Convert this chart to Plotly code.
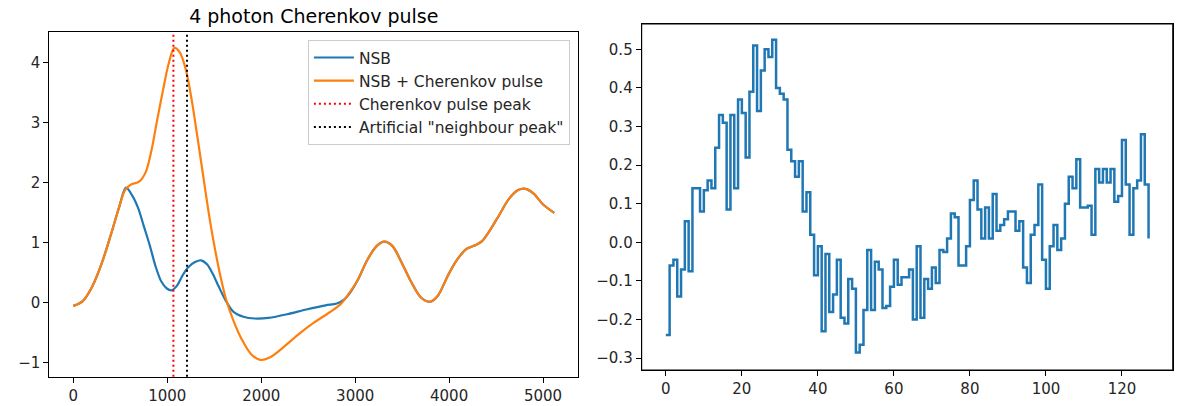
import plotly.graph_objects as go

# ---------------- data: left panel ----------------
nsb_x = [0, 100, 200, 300, 400, 490, 560, 630, 690, 750, 815, 875, 935, 995, 1045,
         1100, 1160, 1220, 1295, 1360, 1425, 1485, 1545, 1625, 1705, 1810, 1930, 2075,
         2275, 2480, 2685, 2805, 2885, 2950, 3030, 3130, 3230, 3310, 3395, 3495, 3600,
         3700, 3800, 3880, 3985, 4085, 4185, 4290, 4350, 4430, 4535, 4635, 4735, 4815,
         4900, 5000, 5119]
nsb_y = [-0.06, 0.02, 0.26, 0.64, 1.13, 1.6, 1.91, 1.77, 1.57, 1.27, 0.94, 0.6, 0.35, 0.23, 0.2,
         0.27, 0.44, 0.58, 0.67, 0.70, 0.63, 0.47, 0.27, 0.02, -0.16, -0.24, -0.27, -0.26,
         -0.2, -0.12, -0.05, -0.02, 0.05, 0.17, 0.38, 0.71, 0.94, 1.01, 0.94, 0.66, 0.33,
         0.08, 0.01, 0.11, 0.44, 0.71, 0.89, 0.96, 1.02, 1.19, 1.46, 1.72, 1.87, 1.89,
         1.81, 1.63, 1.49]

pulse_x = [0, 100, 200, 300, 400, 490, 550, 610, 700, 770, 830, 890, 955, 1015, 1075,
           1135, 1200, 1260, 1320, 1380, 1440, 1500, 1565, 1625, 1705, 1790, 1890, 1990,
           2090, 2235, 2400, 2560, 2725, 2845, 2930, 3030, 3130, 3230, 3310, 3395, 3495,
           3600, 3700, 3800, 3880, 3985, 4085, 4185, 4290, 4350, 4430, 4535, 4635, 4735,
           4815, 4900, 5000, 5119]
pulse_y = [-0.06, 0.02, 0.26, 0.64, 1.13, 1.6, 1.87, 1.96, 2.01, 2.17, 2.52, 3.02, 3.54, 3.98, 4.24,
           4.16, 3.86, 3.37, 2.76, 2.13, 1.5, 0.95, 0.44, 0.05, -0.31, -0.61, -0.86, -0.96,
           -0.92, -0.75, -0.53, -0.34, -0.17, -0.03, 0.14, 0.38, 0.71, 0.94, 1.01, 0.94, 0.66,
           0.33, 0.08, 0.01, 0.11, 0.44, 0.71, 0.89, 0.96, 1.02, 1.19, 1.46, 1.72, 1.87,
           1.89, 1.81, 1.63, 1.49]

peak_x = 1065
neighbour_x = 1210

left_xticks = [0, 1000, 2000, 3000, 4000, 5000]
left_yticks = [-1, 0, 1, 2, 3, 4]

# ---------------- data: right panel ----------------
samples = list(range(128))
digitized = [
    -0.24, -0.06, -0.045, -0.14, -0.07, 0.055, -0.075, 0.14, 0.14, 0.08,
    0.135, 0.16, 0.14, 0.245, 0.33, 0.31, 0.085, 0.33, 0.14, 0.37,
    0.335, 0.22, 0.39, 0.51, 0.34, 0.445, 0.50, 0.48, 0.525, 0.40,
    0.385, 0.37, 0.24, 0.21, 0.17, 0.21, 0.08, 0.13, 0.02, -0.085,
    -0.01, -0.23, -0.03, -0.18, -0.135, -0.045, -0.195, -0.21, -0.095, -0.12,
    -0.285, -0.265, -0.175, -0.02, -0.175, -0.05, -0.07, -0.17, -0.165, -0.115,
    -0.045, -0.11, -0.09, -0.09, -0.07, -0.2, -0.01, -0.195, -0.095, -0.12,
    -0.065, -0.105, -0.02, -0.025, 0.01, 0.075, 0.065, -0.06, -0.06, -0.01,
    0.11, 0.16, 0.085, 0.01, 0.09, 0.01, 0.125, 0.03, 0.045, 0.06,
    0.08, 0.08, 0.03, 0.055, -0.065, -0.105, 0.02, 0.045, 0.15, -0.045,
    -0.12, -0.01, 0.045, -0.02, 0.01, 0.10, 0.17, 0.14, 0.215, 0.09,
    0.09, 0.095, 0.02, 0.19, 0.155, 0.19, 0.155, 0.19, 0.105, 0.12,
    0.265, 0.15, 0.02, 0.14, 0.16, 0.28, 0.15, 0.01]

right_xticks = [0, 20, 40, 60, 80, 100, 120]
right_yticks = [-0.3, -0.2, -0.1, 0.0, 0.1, 0.2, 0.3, 0.4, 0.5]

# ---------------- figure ----------------
W, H = 1181, 406
FONT = "DejaVu Sans"
BLUE = "#1f77b4"
ORANGE = "#ff7f0e"
TICK_SIZE = 15
LEGEND_SIZE = 15.5
TITLE_SIZE = 19

fig = go.Figure()

fig.add_trace(go.Scatter(
    x=nsb_x, y=nsb_y, mode="lines", name="NSB", legendgroup="g1",
    line=dict(color=BLUE, width=2.2, shape="spline", smoothing=0.9),
    xaxis="x", yaxis="y"))
fig.add_trace(go.Scatter(
    x=pulse_x, y=pulse_y, mode="lines", name="NSB + Cherenkov pulse", legendgroup="g2",
    line=dict(color=ORANGE, width=2.2, shape="spline", smoothing=0.9),
    xaxis="x", yaxis="y"))

fig.add_shape(type="line", xref="x", yref="y domain", x0=peak_x, x1=peak_x, y0=0, y1=1,
              line=dict(color="#ff0000", width=2, dash="2px,3px"),
              showlegend=True, name="Cherenkov pulse peak", legendgroup="g3")
fig.add_shape(type="line", xref="x", yref="y domain", x0=neighbour_x, x1=neighbour_x, y0=0, y1=1,
              line=dict(color="#000000", width=2, dash="2px,3px"),
              showlegend=True, name='Artificial "neighbour peak"', legendgroup="g4")

fig.add_trace(go.Scatter(
    x=samples, y=digitized, mode="lines", showlegend=False,
    line=dict(color=BLUE, width=2.5, shape="hv"),
    xaxis="x2", yaxis="y2"))

# frame around the right panel (axes box)
fig.add_shape(type="rect", xref="x2 domain", yref="y2 domain", x0=0, x1=1, y0=0, y1=1,
              line=dict(color="black", width=1), fillcolor="rgba(0,0,0,0)", layer="above")

axis_common = dict(
    showline=True, linecolor="black", linewidth=1, mirror=True,
    ticks="outside", ticklen=5, tickwidth=1, tickcolor="black",
    showgrid=False, zeroline=False, automargin=False,
    tickfont=dict(family=FONT, size=TICK_SIZE, color="#262626"),
)

fig.update_layout(
    width=W, height=H,
    margin=dict(l=0, r=0, t=0, b=0, autoexpand=False),
    paper_bgcolor="white", plot_bgcolor="white",
    font=dict(family=FONT, size=TICK_SIZE, color="#262626"),
    title=dict(text="4 photon Cherenkov pulse", x=313.8 / W, xanchor="center",
               y=1 - 16.0 / H, yanchor="middle", xref="paper", yref="paper",
               automargin=False,
               font=dict(family=FONT, size=TITLE_SIZE, color="black")),
    xaxis=dict(domain=[49.3 / W, 578.3 / W], range=[-256, 5375],
               tickvals=left_xticks, anchor="y", **axis_common),
    yaxis=dict(domain=[1 - 376.7 / H, 1 - 32.3 / H], range=[-1.24, 4.5],
               tickvals=left_yticks, anchor="x", **axis_common),
    xaxis2=dict(domain=[641.7 / W, 1172.7 / W], range=[-6.35, 133.35],
                tickvals=right_xticks, anchor="y2", **axis_common),
    yaxis2=dict(domain=[1 - 370 / H, 1 - 24 / H], range=[-0.3305, 0.5655],
                tickvals=right_yticks, tickformat=".1f", anchor="x2", **axis_common),
    legend=dict(x=569.9 / W, xanchor="right", y=1 - 39.9 / H, yanchor="top",
                bgcolor="rgba(255,255,255,0.8)", bordercolor="#cccccc", borderwidth=1,
                font=dict(family=FONT, size=LEGEND_SIZE, color="#262626"),
                itemwidth=40,
                traceorder="grouped", tracegroupgap=0),
    showlegend=True,
)

fig.write_html("out.html",
               config={"displayModeBar": False},
               post_script="document.body.style.margin='0px';"
                           "document.body.style.padding='0px';"
                           "document.body.style.overflow='hidden';")
